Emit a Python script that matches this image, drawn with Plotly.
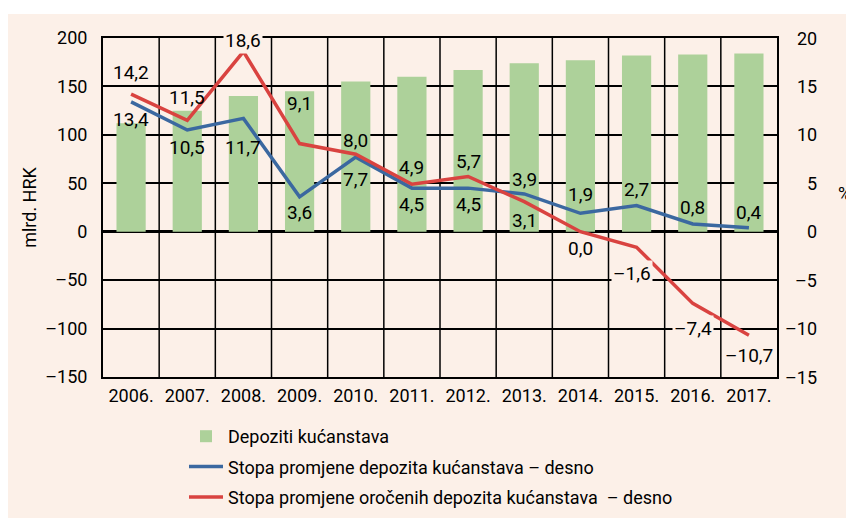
import plotly.graph_objects as go

# ---------------- data ----------------
years = ["2006.", "2007.", "2008.", "2009.", "2010.", "2011.",
         "2012.", "2013.", "2014.", "2015.", "2016.", "2017."]
deposits = [112, 125, 140, 145, 155, 160, 167, 174, 177, 182, 183, 184]
rate_deposits = [13.4, 10.5, 11.7, 3.6, 7.7, 4.5, 4.5, 3.9, 1.9, 2.7, 0.8, 0.4]
rate_term = [14.2, 11.5, 18.6, 9.1, 8.0, 4.9, 5.7, 3.1, 0.0, -1.6, -7.4, -10.7]
left_ticks = [-150, -100, -50, 0, 50, 100, 150, 200]
right_ticks = [-15, -10, -5, 0, 5, 10, 15, 20]

# ---------------- style ----------------
FONT = "Roboto, Liberation Sans, sans-serif"
PEACH = "#FCF0E8"
GREEN = "#ADD19A"
BLUE = "#3B68A0"
RED = "#D94340"

# label offsets (pixels) relative to each point
blue_yshift = [-18, -17, -29, -16, -22, -16, -16, 14, 19, 16, 16, 15]
red_yshift = [22, 23, 11, 40, 14, 17, 15, -19, -17, -26, -25, -20]
red_xshift = [0, 0, 0, 0, 0, 0, 0, 0, 0, -5, 0, 0]
red_bg = [False, False, True, False, False, False, False, False, False, True, True, False]


def fmt(v):
    return f"{v:.1f}".replace(".", ",").replace("-", "–")


def fmt_tick(v):
    return str(v).replace("-", "–")


L, R, T, B = 103, 69, 38, 141
W, H = 846, 518
PW, PH = W - L - R, H - T - B


def px_x(p):
    return (p - L) / PW


def px_y(p):
    return (H - B - p) / PH


fig = go.Figure()
fig.add_trace(go.Bar(
    x=years, y=deposits, name="Depoziti kućanstava",
    marker=dict(color=GREEN, line=dict(width=0)), width=0.52,
    legendgroup="a", yaxis="y",
))
fig.add_trace(go.Scatter(
    x=years, y=rate_deposits, mode="lines",
    name="Stopa promjene depozita kućanstava – desno",
    line=dict(color=BLUE, width=3.5), legendgroup="b", yaxis="y2",
))
fig.add_trace(go.Scatter(
    x=years, y=rate_term, mode="lines",
    name="Stopa promjene oročenih depozita kućanstava  – desno",
    line=dict(color=RED, width=3.5), legendgroup="c", yaxis="y2",
))

annotations = []
for i, v in enumerate(rate_deposits):
    annotations.append(dict(
        x=i, y=v, xref="x", yref="y2", text=fmt(v), showarrow=False,
        yshift=blue_yshift[i], font=dict(size=19, color="black", family=FONT),
    ))
for i, v in enumerate(rate_term):
    annotations.append(dict(
        x=i, y=v, xref="x", yref="y2", text=fmt(v), showarrow=False,
        yshift=red_yshift[i], xshift=red_xshift[i],
        bgcolor=PEACH if red_bg[i] else None, borderpad=1,
        font=dict(size=19, color="black", family=FONT),
    ))
# right-axis tick labels, right aligned
for t in right_ticks:
    annotations.append(dict(
        x=px_x(819), y=t, xref="paper", yref="y2", text=fmt_tick(t),
        showarrow=False, xanchor="right",
        font=dict(size=18, color="black", family=FONT),
    ))
annotations.append(dict(
    x=px_x(836), y=px_y(193), xref="paper", yref="paper", text="%",
    showarrow=False, xanchor="left",
    font=dict(size=18, color="black", family=FONT),
))

# background panel + vertical grid lines at category boundaries
shapes = [dict(
    type="rect", xref="paper", yref="paper", layer="below",
    x0=px_x(8), x1=px_x(846), y0=px_y(518), y1=px_y(14),
    fillcolor=PEACH, line=dict(width=0),
)]
for i in range(len(years) - 1):
    shapes.append(dict(
        type="line", xref="x", yref="paper", layer="between",
        x0=i + 0.5, x1=i + 0.5, y0=0, y1=1,
        line=dict(color="black", width=1.5),
    ))

fig.update_layout(
    template="none",
    width=W, height=H,
    margin=dict(l=L, r=R, t=T, b=B, pad=0, autoexpand=False),
    paper_bgcolor="white",
    plot_bgcolor="rgba(0,0,0,0)",
    font=dict(family=FONT, size=18, color="black"),
    showlegend=True,
    legend=dict(
        x=px_x(184), y=px_y(418), xanchor="left", yanchor="top",
        bgcolor="rgba(0,0,0,0)", font=dict(size=18, family=FONT),
        traceorder="grouped", tracegroupgap=4, itemwidth=34,
    ),
    xaxis=dict(
        type="category", range=[-0.5, len(years) - 0.5],
        showgrid=False, showline=True, linecolor="black",
        linewidth=2, mirror=True, ticks="", ticklabelstandoff=1,
        tickangle=0, tickfont=dict(size=18, family=FONT), automargin=False,
    ),
    yaxis=dict(
        range=[-150, 200], tickvals=left_ticks,
        ticktext=[fmt_tick(t) for t in left_ticks],
        showgrid=True, gridcolor="black", gridwidth=1.5,
        zeroline=True, zerolinecolor="black", zerolinewidth=2.5,
        showline=True, linecolor="black", linewidth=2, mirror=True,
        ticks="", ticklabelstandoff=10, automargin=False,
        title=dict(text="mlrd. HRK", standoff=4, font=dict(size=18, family=FONT)),
        tickfont=dict(size=18, family=FONT),
    ),
    yaxis2=dict(
        range=[-15, 20], overlaying="y", side="right", showgrid=False,
        zeroline=False, showticklabels=False, ticks="", automargin=False,
    ),
    annotations=annotations,
    shapes=shapes,
)

fig.write_html(
    "out.html",
    config={"displayModeBar": False},
    post_script="document.body.style.margin='0';document.body.style.overflow='hidden';",
)
